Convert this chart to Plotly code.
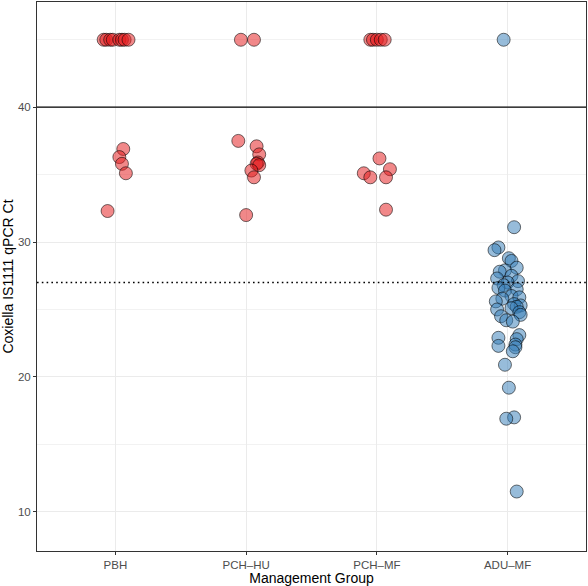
import plotly.graph_objects as go

# ---- data ----
categories = ["PBH", "PCH\u2013HU", "PCH\u2013MF", "ADU\u2013MF"]

pbh_ct = [45, 45, 45, 45, 45, 45, 45, 45, 36.9, 36.3, 35.8, 35.1, 32.3]
pbh_jit = [-0.09, -0.07, -0.04, -0.02, 0.03, 0.05, 0.07, 0.10, 0.06, 0.03, 0.05, 0.08, -0.06]

pchhu_ct = [45, 45, 37.5, 37.1, 36.5, 35.9, 35.8, 35.7, 35.3, 34.8, 32.0]
pchhu_jit = [-0.04, 0.06, -0.06, 0.08, 0.10, 0.09, 0.08, 0.10, 0.04, 0.06, 0.00]

pchmf_ct = [45, 45, 45, 45, 45, 36.2, 35.4, 35.1, 34.8, 34.8, 32.4]
pchmf_jit = [-0.05, -0.03, 0.00, 0.03, 0.06, 0.02, 0.10, -0.10, -0.05, 0.07, 0.07]

adumf_ct = [45, 31.1, 29.6, 29.4, 28.8, 28.6, 28.1, 27.9, 27.8, 27.5, 27.3, 27.1,
            27.0, 26.8, 26.6, 26.5, 26.4, 26.0, 25.9, 25.8, 25.6, 25.4, 25.3, 25.2,
            25.1, 25.0, 24.8, 24.6, 24.5, 24.2, 24.1, 23.1, 22.9, 22.8, 22.4, 22.3,
            22.2, 21.9, 20.9, 19.2, 17.0, 16.9, 11.5]
adumf_jit = [-0.03, 0.05, -0.07, -0.10, 0.01, 0.03, 0.07, -0.02, -0.06, 0.03, -0.08, 0.08,
             0.00, -0.03, -0.07, 0.07, -0.02, 0.03, 0.09, -0.04, -0.09, 0.05, 0.10, 0.07,
             0.03, -0.08, 0.09, 0.10, -0.05, -0.01, 0.04, 0.09, -0.07, 0.07, 0.06, -0.07,
             0.06, 0.04, -0.02, 0.01, 0.05, -0.01, 0.07]

y_ticks = [10, 20, 30, 40]
y_minor = [15, 25, 35, 45]
limit_solid = 40
limit_dotted = 27

red_fill = "rgba(228,26,28,0.52)"
blue_fill = "rgba(55,126,184,0.52)"
edge = "rgba(0,0,0,0.55)"

fig = go.Figure()

groups = [
    (1, pbh_ct, pbh_jit, red_fill),
    (2, pchhu_ct, pchhu_jit, red_fill),
    (3, pchmf_ct, pchmf_jit, red_fill),
    (4, adumf_ct, adumf_jit, blue_fill),
]
for pos, ct, jit, col in groups:
    fig.add_trace(go.Scatter(
        x=[pos + j for j in jit], y=ct, mode="markers",
        marker=dict(size=13, color=col, line=dict(color=edge, width=1)),
        showlegend=False, hoverinfo="y",
    ))

fig.add_hline(y=limit_solid, line=dict(color="black", width=1.2), layer="above")
fig.add_hline(y=limit_dotted, line=dict(color="black", width=1.6, dash="1.6px,3.2px"), layer="above")

font_family = "Liberation Sans, Arial, Helvetica, sans-serif"

fig.update_layout(
    width=588, height=586,
    margin=dict(l=37, r=1, t=1, b=34),
    paper_bgcolor="white", plot_bgcolor="white",
    font=dict(family=font_family, color="#4D4D4D", size=11),
    xaxis=dict(
        range=[0.4, 4.6],
        tickvals=[1, 2, 3, 4], ticktext=categories,
        showgrid=True, gridcolor="#EBEBEB", gridwidth=1,
        zeroline=False,
        showline=True, mirror=True, linecolor="#333333", linewidth=1,
        ticks="outside", ticklen=3, tickcolor="#333333",
        tickfont=dict(size=11.5, color="#4D4D4D"),
        title=dict(text="Management Group", font=dict(size=14, color="black"), standoff=4),
    ),
    yaxis=dict(
        range=[7.09, 47.8],
        tickvals=y_ticks,
        showgrid=True, gridcolor="#EBEBEB", gridwidth=1,
        minor=dict(tickvals=y_minor, showgrid=True, gridcolor="#F2F2F2", gridwidth=0.6, ticks=""),
        zeroline=False,
        showline=True, mirror=True, linecolor="#333333", linewidth=1,
        ticks="outside", ticklen=3, tickcolor="#333333",
        tickfont=dict(size=11.5, color="#4D4D4D"),
        title=dict(text="Coxiella IS1111 qPCR Ct", font=dict(size=14, color="black"), standoff=4),
    ),
)

fig.write_html("out.html")
